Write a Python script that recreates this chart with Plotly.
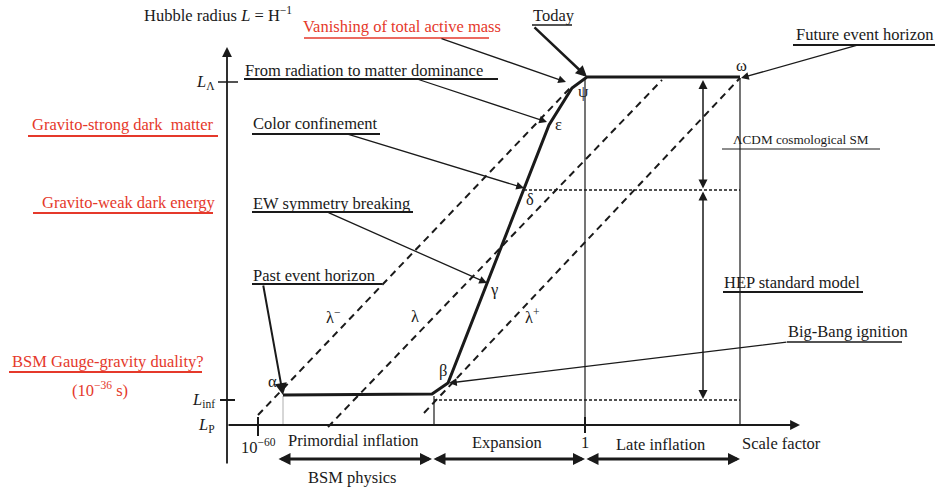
import plotly.graph_objects as go

# ---- schematic data (diagram units: x to the right, y downward) ----
# main Hubble-radius history path: alpha -> beta -> gamma -> delta -> epsilon -> psi -> today -> omega
path_x = [283, 432, 448, 487, 524, 549, 572, 587, 740]
path_y = [395, 394, 383, 283, 189, 125, 88, 77, 77]

# dashed horizon lines lambda-, lambda, lambda+
lam_minus_x = [258, 572]
lam_minus_y = [415, 86]
lam_x = [328, 662]
lam_y = [427, 80]
lam_plus_x = [424, 740]
lam_plus_y = [413, 78]

# axes
yaxis_x = 227
yaxis_bottom, yaxis_top = 465, 47
xaxis_y = 425
xaxis_left, xaxis_right = 227, 800

L_levels = {"L_Lambda": 82, "L_inf": 400, "L_P": 425}
x_ticks = {"1e-60": 258, "1": 585}

# greek point labels
point_labels = ["α", "β", "γ", "δ", "ε", "ψ", "ω"]
point_lx = [272, 443, 494, 530, 558, 583, 741]
point_ly = [383, 372, 291, 201, 126, 93, 67]

RED = "#e5392b"
BLK = "#1a1a1a"
FONT = "Liberation Serif"
FS = 16.5
DY = -2  # lift label text so it sits above its underline

fig = go.Figure()


def line(xs, ys, width=1.2, dash="solid", color=BLK):
    fig.add_trace(go.Scatter(x=xs, y=ys, mode="lines", hoverinfo="skip",
                             line=dict(color=color, width=width, dash=dash),
                             showlegend=False))


def arrow(tail, tip, width=1.3, head=2, size=1.2, side="end", color=BLK):
    fig.add_annotation(x=tip[0], y=tip[1], ax=tail[0], ay=tail[1],
                       xref="x", yref="y", axref="x", ayref="y",
                       text="", showarrow=True, arrowhead=head, arrowsize=size,
                       arrowwidth=width, arrowcolor=color, arrowside=side,
                       standoff=0, startstandoff=0)


def text(x, y, s, size=FS, color=BLK, anchor="left"):
    fig.add_annotation(x=x, y=y + DY, xref="x", yref="y", text=s, showarrow=False,
                       xanchor=anchor, yanchor="middle",
                       font=dict(family=FONT, size=size, color=color))


# axes
arrow((yaxis_x, yaxis_bottom), (yaxis_x, yaxis_top), width=1.8, head=2, size=1.1)
arrow((xaxis_left, xaxis_y), (xaxis_right, xaxis_y), width=1.8, head=2, size=1.1)
line([218, 238], [L_levels["L_Lambda"]] * 2, width=1.5)
line([220, 235], [L_levels["L_inf"]] * 2, width=2)
line([x_ticks["1e-60"]] * 2, [417, 436], width=2)
line([x_ticks["1"]] * 2, [417, 433], width=2)

text(217, L_levels["L_Lambda"] + 2, "<i>L</i><sub>Λ</sub>", anchor="right")
text(217, L_levels["L_inf"] + 2, "<i>L</i><sub>inf</sub>", anchor="right")
text(217, L_levels["L_P"] + 2, "<i>L</i><sub>P</sub>", anchor="right")
text(258, 448, "10<sup>−60</sup>", anchor="center")
text(585, 444, "1", anchor="center")
text(740, 445, "Scale factor")
text(142, 16, "Hubble radius <i>L</i> = H<sup>−1</sup>")

# thin verticals and dotted levels
line([283, 283], [396, 425], width=0.8, color="#999999")
line([434, 434], [396, 425], width=1.2)
line([585, 585], [78, 425], width=1.2)
line([740, 740], [78, 425], width=1.2)
line([524, 740], [190, 190], width=1.3, dash="3px,2px")
line([434, 740], [400, 400], width=1.3, dash="3px,2px")

# dashed horizons
line(lam_minus_x, lam_minus_y, width=2, dash="7px,5px")
line(lam_x, lam_y, width=2, dash="7px,5px")
line(lam_plus_x, lam_plus_y, width=2, dash="7px,5px")
text(333, 318, "λ<sup>−</sup>", anchor="center")
text(415, 318, "λ", anchor="center")
text(532, 318, "λ<sup>+</sup>", anchor="center")

# main path
line(path_x, path_y, width=3)
for s, x, y in zip(point_labels, point_lx, point_ly):
    text(x, y, s, size=16.5, anchor="center")

# vertical double arrows (LCDM / HEP)
arrow((703, 190), (703, 80), width=1.5, head=2, side="end+start")
arrow((703, 190), (703, 399), width=1.5, head=2, side="end+start")

# bottom era arrows
arrow((277, 459), (432, 459), width=3, head=2, size=0.8, side="end+start")
arrow((432, 459), (585, 459), width=3, head=2, size=0.8, side="end+start")
arrow((585, 459), (740, 459), width=3, head=2, size=0.8, side="end+start")
text(353, 442, "Primordial inflation", anchor="center")
text(507, 444, "Expansion", anchor="center")
text(660, 446, "Late inflation", anchor="center")
text(352, 479, "BSM physics", anchor="center")

# annotated labels with underline and arrows
text(301, 28, "Vanishing of total active mass", color=RED)
line([304, 489], [38, 38], width=1.5, color=RED)
arrow((440, 38), (566, 82), width=1.3)

text(243, 72, "From radiation to matter dominance")
line([244, 498], [79, 79], width=2)
arrow((417, 79), (547, 122), width=1.3)

text(251, 125, "Color confinement")
line([252, 380], [134, 134], width=2)
arrow((347, 134), (524, 188), width=1.3)

text(251, 205, "EW symmetry breaking")
line([252, 413], [212, 212], width=2)
arrow((327, 212), (487, 283), width=1.3)

text(251, 277, "Past event horizon")
line([252, 382], [284, 284], width=2)
arrow((263, 284), (283, 395), width=2)

text(531, 17, "Today")
line([532, 572], [25, 25], width=1.5)
arrow((533, 26), (587, 77), width=2.5, size=0.9)

text(794, 36, "Future event horizon")
line([793, 935], [45, 45], width=2)
arrow((858, 45), (741, 78), width=1.3)

text(786, 333, "Big-Bang ignition")
line([787, 902], [342, 342], width=1.5)
arrow((788, 342), (449, 383), width=1.3)

text(722, 284, "HEP standard model")
line([723, 863], [292, 292], width=2)

text(731, 141, "ΛCDM cosmological SM", size=13.2)
line([722, 880], [149, 149], width=1)

# red left labels
text(30, 126, "Gravito-strong dark  matter", color=RED)
line([28, 218], [136, 136], width=1.8, color=RED)
text(40, 204, "Gravito-weak dark energy", color=RED)
line([33, 213], [213, 213], width=1.8, color=RED)
text(10, 363, "BSM Gauge-gravity duality?", color=RED)
line([9, 202], [372, 372], width=1.8, color=RED)
text(100, 391, "(10<sup>−36</sup> s)", color=RED, anchor="center")

fig.update_layout(
    width=935, height=491,
    margin=dict(l=0, r=0, t=0, b=0),
    paper_bgcolor="white", plot_bgcolor="white",
    xaxis=dict(range=[0, 935], visible=False, fixedrange=True),
    yaxis=dict(range=[491, 0], visible=False, fixedrange=True),
    showlegend=False,
)

fig.write_html("out.html", post_script="document.body.style.margin='0px';",
               config={"displayModeBar": False})
